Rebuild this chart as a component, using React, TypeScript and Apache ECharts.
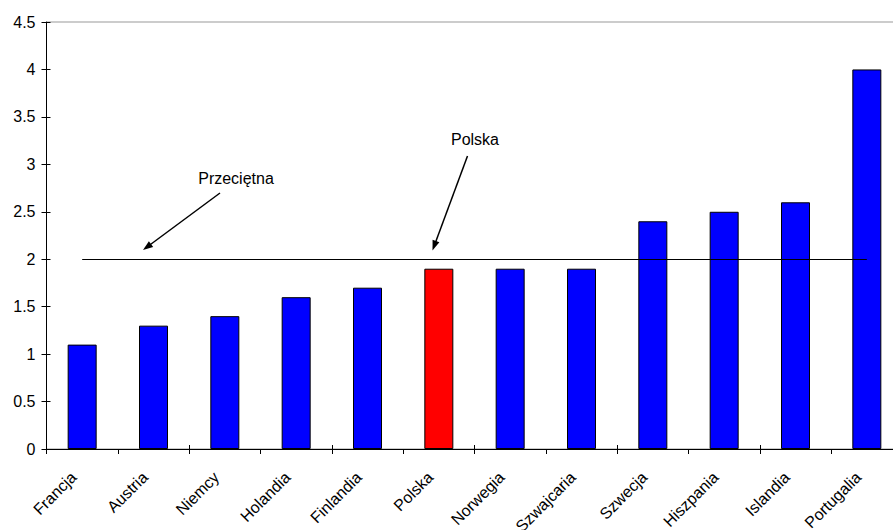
import React, { useEffect, useRef } from "react";
import * as echarts from "echarts";

const categories = [
  "Francja", "Austria", "Niemcy", "Holandia", "Finlandia", "Polska",
  "Norwegia", "Szwajcaria", "Szwecja", "Hiszpania", "Islandia", "Portugalia",
];
const values = [1.1, 1.3, 1.4, 1.6, 1.7, 1.9, 1.9, 1.9, 2.4, 2.5, 2.6, 4.0];
const highlighted = "Polska";
const averageValue = 2;
const yTicks = { min: 0, max: 4.5, interval: 0.5 };
const annotations = [
  { text: "Przeciętna", tx: 236, ty: 178, from: [220, 193], to: [143, 250] },
  { text: "Polska", tx: 475, ty: 139, from: [467.5, 156], to: [432.5, 250.5] },
];

const FONT = '"Liberation Sans", Arial, Helvetica, sans-serif';

function arrow(from: number[], to: number[]) {
  const dx = to[0] - from[0];
  const dy = to[1] - from[1];
  const len = Math.sqrt(dx * dx + dy * dy);
  const ux = dx / len;
  const uy = dy / len;
  const hl = 10;
  const hw = 3.6;
  const bx = to[0] - ux * hl;
  const by = to[1] - uy * hl;
  return [
    {
      type: "line",
      shape: { x1: from[0], y1: from[1], x2: bx + ux * 2, y2: by + uy * 2 },
      style: { stroke: "#000", lineWidth: 1.5 },
      silent: true,
    },
    {
      type: "polygon",
      shape: {
        points: [
          [to[0], to[1]],
          [bx - uy * hw, by + ux * hw],
          [bx + uy * hw, by - ux * hw],
        ],
      },
      style: { fill: "#000" },
      silent: true,
    },
  ];
}

export default function App() {
  const ref = useRef<HTMLDivElement>(null);
  useEffect(() => {
    if (!ref.current) return;
    const chart = echarts.init(ref.current, null, { renderer: "svg" });
    const graphics: any[] = [];
    annotations.forEach((a) => {
      graphics.push({
        type: "text",
        x: a.tx,
        y: a.ty,
        z: 100,
        style: {
          text: a.text,
          fill: "#000",
          font: `16px ${FONT}`,
          align: "center",
          verticalAlign: "middle",
        },
        silent: true,
      });
      graphics.push(...arrow(a.from, a.to));
    });
    chart.setOption({
      animation: false,
      backgroundColor: "#fff",
      grid: {
        left: 46.5,
        top: 22,
        width: 856,
        height: 427,
        outerBoundsMode: "none",
        containLabel: false,
        show: true,
        borderColor: "#999",
        borderWidth: 1,
        backgroundColor: "transparent",
      },
      xAxis: [
        {
          type: "category",
          data: categories,
          position: "bottom",
          axisLine: { lineStyle: { color: "#000", width: 1 } },
          axisTick: { show: true, length: 5, lineStyle: { color: "#000" } },
          axisLabel: {
            rotate: 45,
            interval: 0,
            margin: 17,
            padding: [0, 12, 0, 0],
            color: "#000",
            fontSize: 16,
            fontFamily: FONT,
          },
          splitLine: { show: false },
        },
        {
          type: "category",
          data: categories,
          position: "bottom",
          axisLine: { show: false },
          axisTick: { show: true, inside: true, length: 4, lineStyle: { color: "#000" } },
          axisLabel: { show: false },
          splitLine: { show: false },
        },
      ],
      yAxis: [
        {
          type: "value",
          min: yTicks.min,
          max: yTicks.max,
          interval: yTicks.interval,
          position: "left",
          axisLine: { show: true, lineStyle: { color: "#000", width: 1 } },
          axisTick: { show: true, length: 5, lineStyle: { color: "#000" } },
          axisLabel: { color: "#000", fontSize: 16, fontFamily: FONT, margin: 11 },
          splitLine: { show: false },
        },
        {
          type: "value",
          min: yTicks.min,
          max: yTicks.max,
          interval: yTicks.interval,
          position: "left",
          axisLine: { show: false },
          axisTick: { show: true, inside: true, length: 4, lineStyle: { color: "#000" } },
          axisLabel: { show: false },
          splitLine: { show: false },
        },
      ],
      series: [
        {
          type: "bar",
          xAxisIndex: 0,
          yAxisIndex: 0,
          barWidth: 29,
          z: 2,
          data: values.map((v, i) => ({
            value: v,
            itemStyle: {
              color: categories[i] === highlighted ? "#FF0000" : "#0000FF",
              borderColor: "#000",
              borderWidth: 1,
            },
          })),
        },
        {
          type: "line",
          xAxisIndex: 0,
          yAxisIndex: 0,
          data: [],
          z: 10,
          zlevel: 0,
          markLine: {
            silent: true,
            z: 10,
            symbol: ["none", "none"],
            label: { show: false },
            lineStyle: { color: "#000", width: 1.2, type: "solid" },
            data: [[{ coord: [0, averageValue] }, { coord: [categories.length - 1, averageValue] }]],
          },
        },
      ],
      graphic: graphics,
    });
    return () => chart.dispose();
  }, []);
  return (
    <div
      style={{
        position: "fixed",
        left: 0,
        top: 0,
        width: 893,
        height: 530,
        overflow: "hidden",
        background: "#fff",
      }}
    >
      <div ref={ref} style={{ width: 910, height: 530 }} />
    </div>
  );
}
